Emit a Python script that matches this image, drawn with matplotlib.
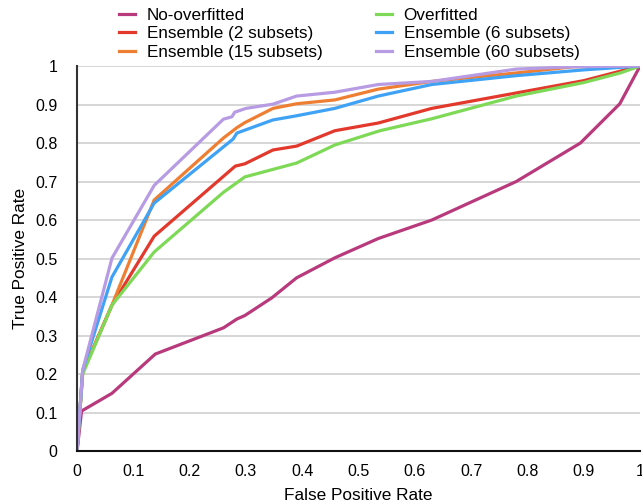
import matplotlib
matplotlib.use('Agg')
import matplotlib.pyplot as plt
from matplotlib.ticker import FuncFormatter

plt.rcParams['font.family'] = ['Liberation Sans', 'DejaVu Sans']

# ROC curves
fpr_noof = [0, 0.008, 0.062, 0.139, 0.26, 0.284, 0.298, 0.346, 0.39, 0.458, 0.535, 0.63, 0.78, 0.894, 0.964, 1]
tpr_noof = [0, 0.104, 0.15, 0.252, 0.32, 0.343, 0.352, 0.398, 0.45, 0.502, 0.552, 0.60, 0.70, 0.80, 0.902, 1]

fpr_of = [0, 0.01, 0.062, 0.137, 0.26, 0.298, 0.39, 0.458, 0.538, 0.63, 0.78, 0.90, 0.965, 1]
tpr_of = [0, 0.2, 0.379, 0.517, 0.672, 0.712, 0.748, 0.795, 0.832, 0.863, 0.922, 0.957, 0.982, 1]

fpr_e2 = [0, 0.01, 0.062, 0.137, 0.281, 0.298, 0.348, 0.39, 0.458, 0.535, 0.63, 0.78, 0.90, 1]
tpr_e2 = [0, 0.205, 0.379, 0.558, 0.740, 0.746, 0.782, 0.792, 0.832, 0.852, 0.89, 0.93, 0.962, 1]

fpr_e6 = [0, 0.01, 0.062, 0.137, 0.26, 0.277, 0.284, 0.348, 0.387, 0.458, 0.535, 0.63, 0.78, 0.90, 1]
tpr_e6 = [0, 0.21, 0.452, 0.644, 0.79, 0.81, 0.826, 0.86, 0.87, 0.89, 0.922, 0.952, 0.975, 0.99, 1]

fpr_e15 = [0, 0.01, 0.062, 0.137, 0.26, 0.284, 0.298, 0.348, 0.39, 0.458, 0.535, 0.63, 0.78, 0.88, 1]
tpr_e15 = [0, 0.205, 0.379, 0.652, 0.813, 0.84, 0.853, 0.89, 0.902, 0.912, 0.94, 0.96, 0.982, 0.998, 1]

fpr_e60 = [0, 0.01, 0.062, 0.137, 0.26, 0.275, 0.28, 0.30, 0.348, 0.39, 0.458, 0.535, 0.63, 0.78, 0.88, 1]
tpr_e60 = [0, 0.21, 0.501, 0.69, 0.862, 0.868, 0.88, 0.89, 0.901, 0.922, 0.932, 0.952, 0.96, 0.992, 0.998, 1]

ticks = [0, 0.1, 0.2, 0.3, 0.4, 0.5, 0.6, 0.7, 0.8, 0.9, 1]

fig = plt.figure(figsize=(6.42, 5.04), dpi=100)
ax = fig.add_axes([0.12, 0.105, 0.877, 0.764])

ax.plot(fpr_noof, tpr_noof, color='#B83A7C', lw=2.3, label='No-overfitted')
ax.plot(fpr_e2, tpr_e2, color='#E2392C', lw=2.3, label='Ensemble (2 subsets)')
ax.plot(fpr_e15, tpr_e15, color='#EE7E32', lw=2.3, label='Ensemble (15 subsets)')
ax.plot(fpr_of, tpr_of, color='#7ED957', lw=2.3, label='Overfitted')
ax.plot(fpr_e6, tpr_e6, color='#3FA2F4', lw=2.3, label='Ensemble (6 subsets)')
ax.plot(fpr_e60, tpr_e60, color='#B79BE3', lw=2.3, label='Ensemble (60 subsets)')

ax.set_xlim(0, 1)
ax.set_ylim(0, 1)
ax.set_xticks(ticks)
ax.set_yticks(ticks)
fmt = FuncFormatter(lambda v, p: '%g' % round(v, 1))
ax.xaxis.set_major_formatter(fmt)
ax.yaxis.set_major_formatter(fmt)
ax.tick_params(length=0, labelsize=11.5)
ax.tick_params(axis='y', pad=14)
ax.tick_params(axis='x', pad=9)
ax.grid(axis='y', color='#D0D0D0', lw=1.2)
ax.set_axisbelow(True)
for s in ['top', 'right']:
    ax.spines[s].set_visible(False)
ax.spines['left'].set_color('#333333')
ax.spines['bottom'].set_color('#111111')
ax.spines['left'].set_linewidth(1.5)
ax.spines['bottom'].set_linewidth(1.5)

ax.set_xlabel('False Positive Rate', fontsize=12.4, labelpad=7)
ax.set_ylabel('True Positive Rate', fontsize=12.4, labelpad=5)

fig.legend(loc='upper left', bbox_to_anchor=(0.1745, 0.998), ncol=2, frameon=False,
           fontsize=12.3, handlelength=0.94, handletextpad=0.7, columnspacing=3.1,
           labelspacing=0.2, borderaxespad=0.0)

fig.savefig('out.png', dpi=100)
